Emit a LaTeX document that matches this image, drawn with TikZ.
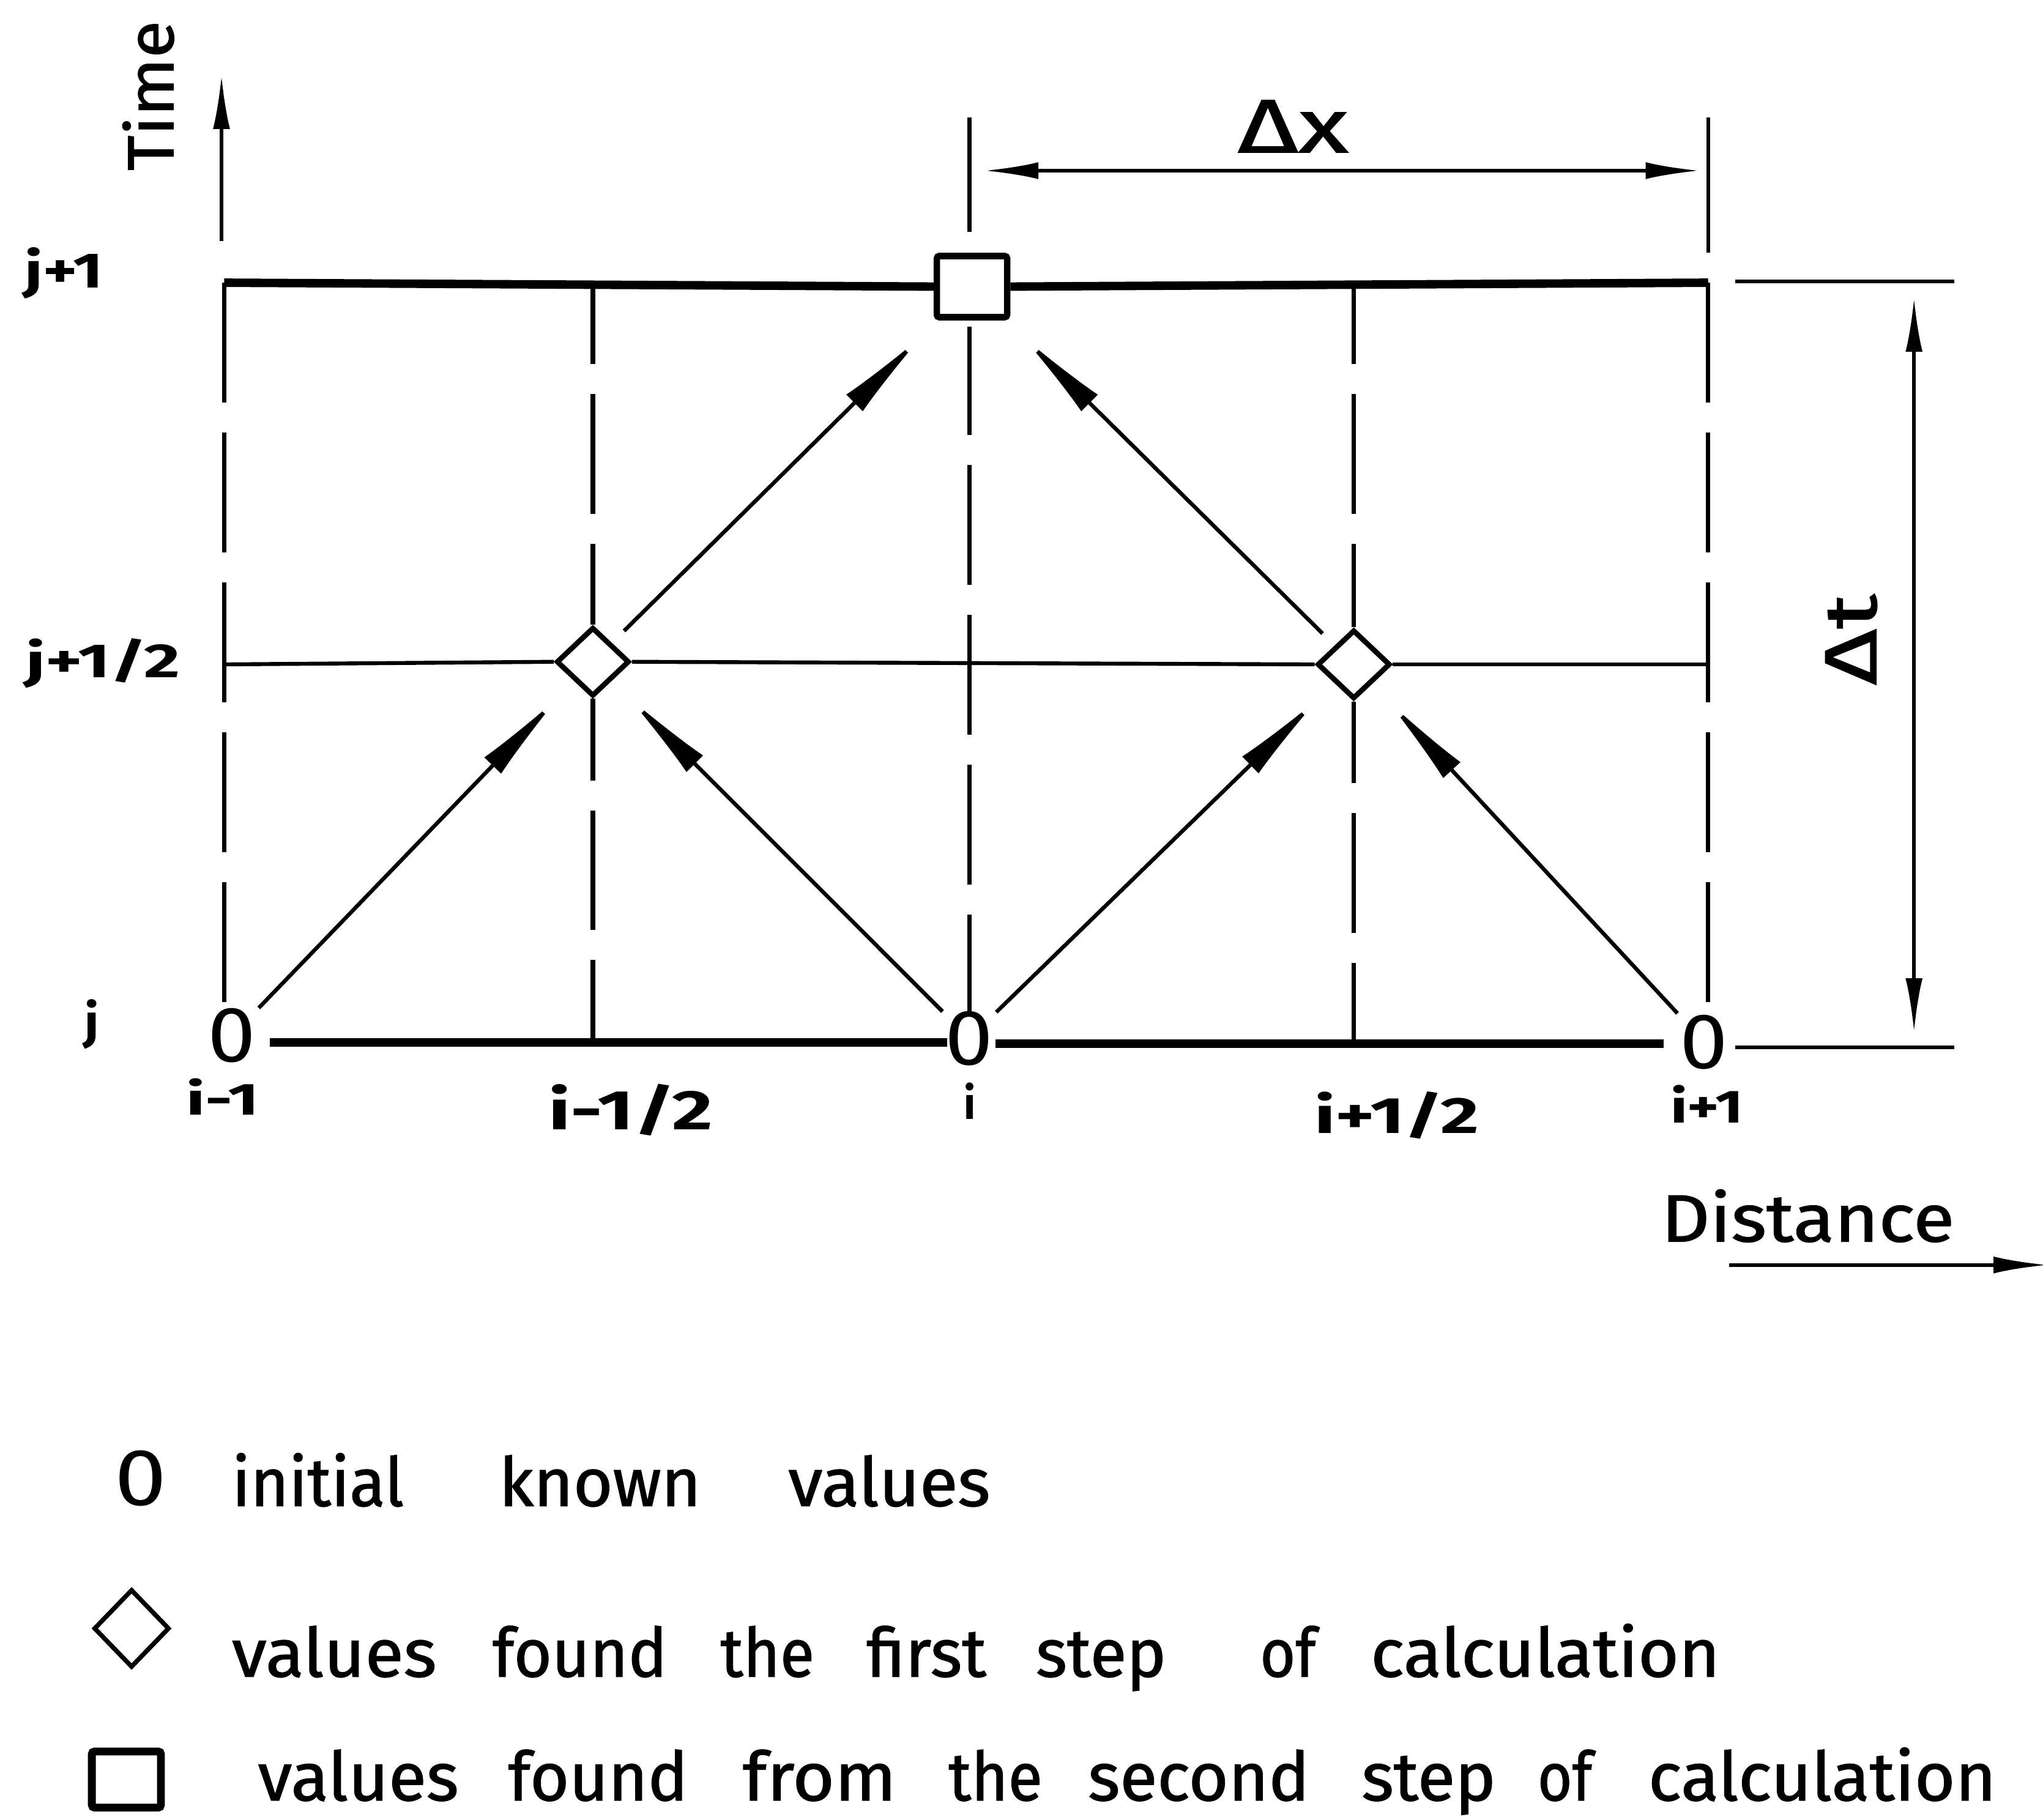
\documentclass[tikz,border=0pt]{standalone}
\usepackage{fontspec}
\setmainfont{Fira Sans}
\newfontfamily\semib[FakeBold=1.2]{Fira Sans}
\usepackage{graphicx}
\usetikzlibrary{arrows.meta,shapes.geometric}
\newcommand{\fitbox}[3]{\resizebox{#1bp}{#2bp}{#3}}
\newcommand{\fitw}[2]{\resizebox{#1bp}{\height}{#2}}
\tikzset{
  dimtip/.tip={Latex[length=42bp,width=13bp]},
  thickline/.style={line width=6.5bp},
  midline/.style={line width=3bp},
  dashv/.style={line width=3.5bp, dash pattern=on 92bp off 23bp},
  extline/.style={line width=3bp},
  dimline/.style={line width=3bp},
  diag/.style={line width=3bp, -{Latex[length=75bp,width=18bp]}},
  txt/.style={inner sep=0pt, outer sep=0pt},
  lbl/.style={txt, anchor=base west, font=\fontsize{43bp}{50bp}\selectfont\bfseries},
  big/.style={txt, anchor=base west, font=\fontsize{52bp}{60bp}\semib},
  zero/.style={txt, font=\fontsize{52bp}{60bp}\selectfont},
  diamark/.style={diamond, draw, line width=4bp, minimum width=56bp, minimum height=53bp, inner sep=0pt, fill=white},
  sqmark/.style={rectangle, draw, line width=5bp, minimum width=54bp, minimum height=47bp, inner sep=0pt, fill=white, rounded corners=2bp},
}
\begin{document}
\begin{tikzpicture}[x=1bp,y=-1bp]
\useasboundingbox (0,0) rectangle (1568,1397);

% ---------- markers ----------
\node[sqmark] (sq) at (746,220) {};
\node[diamark] (d1) at (455,508) {};
\node[diamark] (d2) at (1039,510) {};
\node[zero] (c1) at (178,795) {\fitbox{37}{41}{0}};
\node[zero] (c2) at (744,797) {\fitbox{37}{41}{0}};
\node[zero] (c3) at (1308,800) {\fitbox{37}{41}{0}};

% ---------- coordinates ----------
\coordinate (TL) at (172,217);
\coordinate (TR) at (1311,217);
\coordinate (ML) at (172,510);
\coordinate (MR) at (1311,510);
\coordinate (Av) at (172,770);
\coordinate (Bt) at (455,217);
\coordinate (Bb) at (455,800);
\coordinate (Ct) at (744,251);
\coordinate (Ce1) at (744,90);
\coordinate (Ce2) at (744,178);
\coordinate (Dt) at (1039,217);
\coordinate (Db) at (1039,800);
\coordinate (Ev) at (1311,770);
\coordinate (Ee1) at (1311,90);
\coordinate (Ee2) at (1311,194);
\coordinate (b1) at (207,800);
\coordinate (b2) at (727,800);
\coordinate (b3) at (764,801);
\coordinate (b4) at (1277,801);
\coordinate (b5) at (1332,804);
\coordinate (b6) at (1500,804);
\coordinate (t5) at (1332,216);
\coordinate (t6) at (1500,216);
\coordinate (dx1) at (755,131);
\coordinate (dx2) at (1305,131);
\coordinate (dt1) at (1469,228);
\coordinate (dt2) at (1469,793);
\coordinate (ta) at (170,185);
\coordinate (tb) at (170,57);
\coordinate (da) at (1327,971);
\coordinate (db) at (1572,971);

% ---------- grid ----------
\draw[thickline] (TL) -- (sq.west);
\draw[thickline] (sq.east) -- (TR);
\draw[thickline] (b1) -- (b2);
\draw[thickline] (b3) -- (b4);
\draw[extline] (t5) -- (t6);
\draw[extline] (b5) -- (b6);

\draw[midline] (ML) -- (d1.west);
\draw[midline] (d1.east) -- (d2.west);
\draw[midline] (d2.east) -- (MR);

\draw[dashv] (TL) -- (Av);
\draw[dashv, dash phase=29.5bp] (Bt) -- (d1.north);
\draw[dashv, dash phase=29.5bp] (d1.south) -- (Bb);
\draw[dashv, dash phase=9bp] (Ct) -- (c2.north);
\draw[dashv, dash phase=29.5bp] (Dt) -- (d2.north);
\draw[dashv, dash phase=29.5bp] (d2.south) -- (Db);
\draw[dashv] (TR) -- (Ev);
\draw[extline] (Ce1) -- (Ce2);
\draw[extline] (Ee1) -- (Ee2);

% ---------- dimension arrows ----------
\draw[dimline, {dimtip}-{dimtip}] (dx1) -- (dx2);
\draw[dimline, {dimtip}-{dimtip}] (dt1) -- (dt2);
\draw[dimline, -{dimtip}] (ta) -- (tb);
\draw[dimline, -{dimtip}] (da) -- (db);

% ---------- characteristic arrows ----------
\draw[diag, shorten <=3bp, shorten >=15bp] (c1) -- (d1);
\draw[diag, shorten <=3bp, shorten >=15bp] (c2) -- (d1);
\draw[diag, shorten <=3bp, shorten >=15bp] (c2) -- (d2);
\draw[diag, shorten <=3bp, shorten >=15bp] (c3) -- (d2);
\draw[diag, shorten <=13bp, shorten >=15bp] (d1) -- (sq);
\draw[diag, shorten <=13bp, shorten >=15bp] (d2) -- (sq);

% ---------- labels ----------
\node[lbl] (lj1) at (19,221) {\fitbox{60}{31}{j+1}};
\node[lbl] (lj12) at (20,520) {\fitbox{118}{30}{j+1/2}};
\node[lbl] (lj) at (65,797) {\fitbox{11}{30}{j}};
\node[lbl] (li1) at (143,856) {\fitbox{56}{28}{i-1}};
\node[lbl] (li12) at (421,867) {\fitbox{126}{35}{i-1/2}};
\node[lbl] (li) at (740,859) {\fitbox{9}{28}{i}};
\node[lbl] (li32) at (1009,870) {\fitbox{126}{32}{i+1/2}};
\node[lbl] (li2) at (1282,862) {\fitbox{56}{29}{i+1}};

\node[big, rotate=90] (time) at (133,131) {\fitbox{115}{39}{Time}};
\node[big] (dxl) at (950,117) {\fitbox{85}{40}{Δx}};
\node[big, rotate=90] (dtl) at (1440,526) {\fitbox{70}{39}{Δt}};
\node[big] (dist) at (1275,953) {\fitbox{225}{40}{Distance}};

% ---------- legend ----------
\node[zero] (l0) at (108,1135) {\fitbox{40}{42}{0}};
\node[big] (leg1) at (178,1156) {\fitw{132}{initial}\hspace{73bp}\fitw{155}{known}\hspace{67bp}\fitw{155}{values}};
\node[diamark, minimum width=58bp, minimum height=60bp, line width=3.5bp] (ld) at (101,1250) {};
\node[big] (leg2) at (178,1287) {\fitw{157}{values}\hspace{43bp}\fitw{134}{found}\hspace{41bp}\fitw{72}{the}\hspace{40bp}\fitw{92}{first}\hspace{38bp}\fitw{100}{step}\hspace{72bp}\fitw{43}{of}\hspace{42bp}\fitw{268}{calculation}};
\node[sqmark, minimum width=53bp, minimum height=43bp, line width=6bp] (ls) at (97,1366) {};
\node[big] (leg3) at (198,1382) {\fitw{154}{values}\hspace{38bp}\fitw{138}{found}\hspace{42bp}\fitw{118}{from}\hspace{40bp}\fitw{72}{the}\hspace{35bp}\fitw{170}{second}\hspace{40bp}\fitw{103}{step}\hspace{32bp}\fitw{42}{of}\hspace{43bp}\fitw{267}{calculation}};
\end{tikzpicture}
\end{document}
